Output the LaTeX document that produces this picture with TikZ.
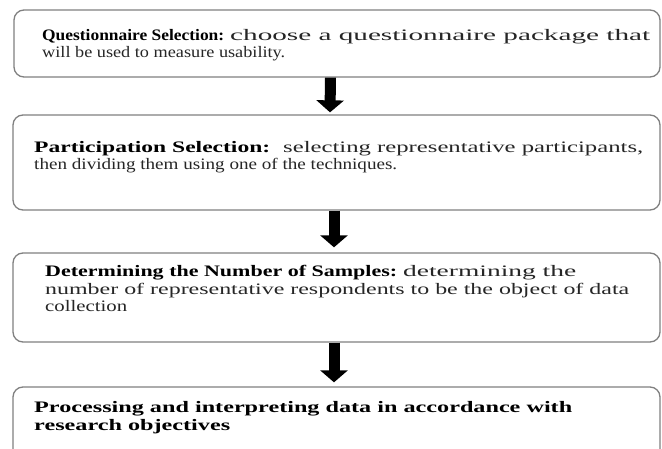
\documentclass[tikz,border=0pt]{standalone}
\usepackage{fontspec}
\setmainfont{Liberation Serif}
\usepackage{graphicx}
\usetikzlibrary{arrows.meta}
\newcommand\seg[2]{\resizebox{#1}{\height}{#2}}
\newcommand\bseg[2]{\resizebox{#1}{\height}{\textbf{#2}}}
\begin{document}
\begin{tikzpicture}[x=1pt,y=-1pt,
  stepbox/.style={draw=black!50,line width=1.3pt,rounded corners=10pt,inner sep=0pt,fill=white},
  txt/.style={anchor=base west,inner sep=0pt,font=\fontsize{16}{17}\selectfont,text=black!85},
  flow/.style={line width=11pt,draw=black,-{Triangle[width=27pt,length=12pt]}}]
\fill[white] (0,0) rectangle (662,449);
\useasboundingbox (0,0) rectangle (662,449);
% boxes
\node[stepbox,minimum width=646pt,minimum height=67pt] (b1) at (337,43.5) {};
\node[stepbox,minimum width=647pt,minimum height=95pt] (b2) at (336.5,162.5) {};
\node[stepbox,minimum width=647pt,minimum height=89pt] (b3) at (336.5,297.5) {};
\node[stepbox,minimum width=647pt,minimum height=93pt] (b4) at (336.5,433.5) {};
% arrows
\draw[flow] ([xshift=-6.5pt]b1.south) -- ([xshift=-6.5pt,yshift=2pt]b2.north);
\draw[flow] ([xshift=-2.5pt]b2.south) -- ([xshift=-2.5pt,yshift=5pt]b3.north);
\draw[flow] ([xshift=-2.5pt]b3.south) -- ([xshift=-2.5pt,yshift=4pt]b4.north);
% texts
\node[txt] (t1a) at (42,41) {\textcolor{black}{\bseg{182pt}{Questionnaire Selection:}}\hspace{6pt}\seg{420pt}{choose a questionnaire package that}};
\node[txt] (t1b) at (42,58) {\seg{243pt}{will be used to measure usability.}};
\node[txt] (t2a) at (34,153) {\textcolor{black}{\bseg{236pt}{Participation Selection:}}\hspace{13pt}\seg{360pt}{selecting representative participants,}};
\node[txt] (t2b) at (34,170) {\seg{363pt}{then dividing them using one of the techniques.}};
\node[txt] (t3a) at (45,277) {\textcolor{black}{\bseg{352pt}{Determining the Number of Samples:}}\hspace{6pt}\seg{173pt}{determining the}};
\node[txt] (t3b) at (45,295) {\seg{584pt}{number of representative respondents to be the object of data}};
\node[txt] (t3c) at (45,312) {\seg{82pt}{collection}};
\node[txt,text=black] (t4a) at (34,413) {\bseg{538pt}{Processing and interpreting data in accordance with}};
\node[txt,text=black] (t4b) at (34,430) {\bseg{196pt}{research objectives}};
\end{tikzpicture}
\end{document}
